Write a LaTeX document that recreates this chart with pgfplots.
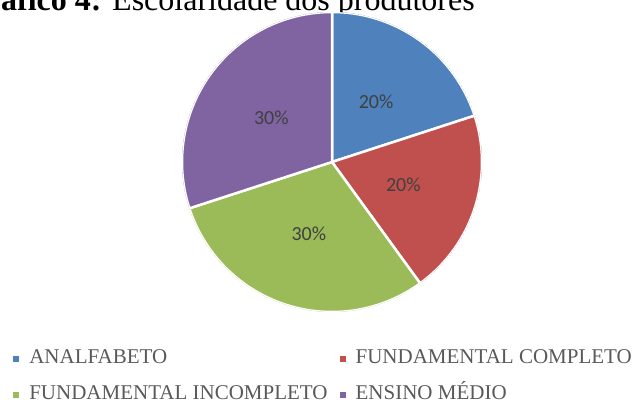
\documentclass[border=0pt]{standalone}
\usepackage{pgfplots}
\pgfplotsset{compat=1.18}
\usepgfplotslibrary{polar}
\usepackage{fontspec}
\setmainfont{Liberation Serif}
\newfontfamily\carlito{Carlito}
\definecolor{cA}{HTML}{4F81BD}
\definecolor{cB}{HTML}{C0504D}
\definecolor{cC}{HTML}{9BBB59}
\definecolor{cD}{HTML}{8064A2}
\definecolor{lbl}{HTML}{404040}
\definecolor{leg}{HTML}{595959}
% percentages
\def\va{20}\def\vb{20}\def\vc{30}\def\vd{30}
\pgfmathsetmacro\aA{90}
\pgfmathsetmacro\aB{\aA-3.6*\va}
\pgfmathsetmacro\aC{\aB-3.6*\vb}
\pgfmathsetmacro\aD{\aC-3.6*\vc}
\pgfmathsetmacro\aE{\aD-3.6*\vd}
\begin{document}
\begin{tikzpicture}[x=1pt,y=1pt]
\path[use as bounding box] (0,0) rectangle (639,-403);
\clip (0,0) rectangle (639,-403);
\node[anchor=base east, inner sep=0pt, font=\fontsize{32}{36}\selectfont] at (475,-10.5) {\textbf{Gráfico 4:} Escolaridade dos produtores};
\begin{polaraxis}[
  at={(332pt,-162pt)}, anchor=center,
  scale only axis, width=300pt, height=300pt,
  hide axis, ymin=0, ymax=1,
  legend columns=2,
  legend cell align=left,
  legend style={draw=none, fill=none, inner sep=0pt,
    font=\fontsize{21}{24}\selectfont, text=leg,
    nodes={text height=14pt, text depth=4pt},
    at={(-0.563,-0.118)}, anchor=north west,
    column sep=8pt, row sep=14pt,
    /tikz/every even column/.append style={column sep=10pt}},
  legend image code/.code={\fill[#1, draw=none] (0pt,-3pt) rectangle (6pt,3pt);},
]
\addplot[fill=cA, draw=white, line width=2.5pt, domain=\aB:\aA, samples=80] {1} -- (axis cs:0,0) -- cycle;
\addlegendentry{ANALFABETO}
\addplot[fill=cB, draw=white, line width=2.5pt, domain=\aC:\aB, samples=80] {1} -- (axis cs:0,0) -- cycle;
\addlegendentry{FUNDAMENTAL COMPLETO}
\addplot[fill=cC, draw=white, line width=2.5pt, domain=\aD:\aC, samples=100] {1} -- (axis cs:0,0) -- cycle;
\addlegendentry{FUNDAMENTAL INCOMPLETO}
\addplot[fill=cD, draw=white, line width=2.5pt, domain=\aE:\aD, samples=100] {1} -- (axis cs:0,0) -- cycle;
\addlegendentry{ENSINO MÉDIO}
\begin{scope}[every node/.style={font=\carlito\fontsize{20}{24}\selectfont, text=lbl}]
\node at (axis cs:{(\aA+\aB)/2},0.5) {\va\%};
\node at (axis cs:{(\aB+\aC)/2},0.5) {\vb\%};
\node at (axis cs:{(\aC+\aD)/2},0.5) {\vc\%};
\node at (axis cs:{(\aD+\aE)/2},0.5) {\vd\%};
\end{scope}
\end{polaraxis}
\end{tikzpicture}
\end{document}
